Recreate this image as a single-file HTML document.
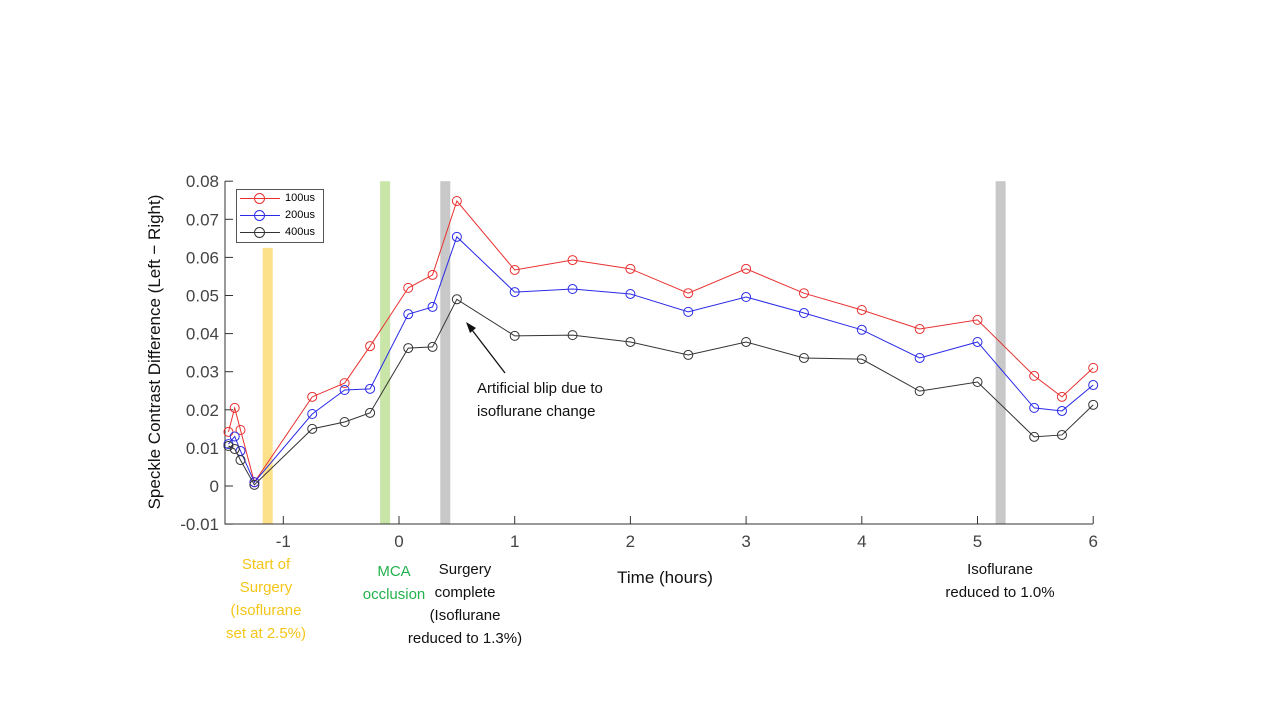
<!DOCTYPE html>
<html><head><meta charset="utf-8"><style>
body{margin:0;background:#fff;font-family:"Liberation Sans",sans-serif}
svg text{font-family:"Liberation Sans",sans-serif}
</style></head><body>
<svg id="c" width="1280" height="720"></svg>
<script>
const times=[-1.474,-1.42,-1.37,-1.25,-0.75,-0.47,-0.25,0.08,0.29,0.5,1,1.5,2,2.5,3,3.5,4,4.5,5,5.49,5.73,6];
const s100=[0.0142,0.0205,0.0147,0.001,0.0234,0.027,0.0367,0.052,0.0554,0.0748,0.0567,0.0593,0.057,0.0506,0.057,0.0506,0.0462,0.0412,0.0436,0.0289,0.0234,0.031];
const s200=[0.011,0.013,0.0092,0.001,0.0189,0.0252,0.0255,0.0451,0.047,0.0654,0.0509,0.0517,0.0504,0.0457,0.0496,0.0454,0.041,0.0336,0.0378,0.0205,0.0197,0.0265];
const s400=[0.0105,0.0097,0.0068,0.0003,0.015,0.0168,0.0192,0.0362,0.0365,0.049,0.0394,0.0396,0.0378,0.0344,0.0378,0.0336,0.0333,0.0249,0.0273,0.0129,0.0134,0.0213];
const yTicks=[-0.01,0,0.01,0.02,0.03,0.04,0.05,0.06,0.07,0.08];
const yLabels=["-0.01","0","0.01","0.02","0.03","0.04","0.05","0.06","0.07","0.08"];
const xTicks=[-1,0,1,2,3,4,5,6];
const xLabels=["-1","0","1","2","3","4","5","6"];
const bands=[{x:-1.135,y0:0.0625,c:"#fde08a",n:"surgery-start-band"},{x:-0.12,y0:0.08,c:"#c9e5a8",n:"mca-occlusion-band"},{x:0.4,y0:0.08,c:"#c8c8c8",n:"surgery-complete-band"},{x:5.2,y0:0.08,c:"#c8c8c8",n:"isoflurane-reduced-band"}];
const X=v=>399+v*115.7, Y=v=>486-v*3810;
const svg=document.getElementById('c');const NS="http://www.w3.org/2000/svg";
function mk(t,a,p){const e=document.createElementNS(NS,t);for(const k in a)e.setAttribute(k,a[k]);(p||svg).appendChild(e);return e;}
bands.forEach(b=>{const r=mk('rect',{x:X(b.x)-5,y:Y(b.y0),width:10,height:524-Y(b.y0),fill:b.c});

});
let ax=mk('path',{d:'M225,181 V524 H1093',stroke:'#333',fill:'none','stroke-width':1});


yTicks.forEach((v,i)=>{mk('line',{x1:225,x2:233,y1:Y(v),y2:Y(v),stroke:'#333'});
const t=mk('text',{x:219,y:Y(v)+6,'text-anchor':'end','font-size':17,fill:'#444'});t.textContent=yLabels[i];

});
xTicks.forEach((v,i)=>{mk('line',{x1:X(v),x2:X(v),y1:524,y2:516,stroke:'#333'});
const t=mk('text',{x:X(v),y:547,'text-anchor':'middle','font-size':17,fill:'#444'});t.textContent=xLabels[i];

});
[[s100,'#e83030','series-100us'],[s200,'#2a2ae8','series-200us'],[s400,'#333','series-400us']].forEach(([s,c,n])=>{
const g=mk('g',{});


mk('polyline',{points:s.map((v,i)=>X(times[i])+','+Y(v)).join(' '),fill:'none',stroke:c,'stroke-width':1},g);
s.forEach((v,i)=>{const p=mk('circle',{cx:X(times[i]),cy:Y(v),r:4.5,fill:'none',stroke:c},g);

});});
</script>
<div style="position:absolute;left:236px;top:189px;width:86px;height:52px;border:1px solid #555;background:#fff;font-size:11px">
<div style="position:relative;height:17px"><span style="position:absolute;left:3px;top:8px;width:40px;border-top:1px solid #e83030"></span><span style="position:absolute;left:17px;top:3px;width:9px;height:9px;border:1px solid #e83030;border-radius:50%"></span><span style="position:absolute;left:48px;top:2px">100us</span></div>
<div style="position:relative;height:17px"><span style="position:absolute;left:3px;top:8px;width:40px;border-top:1px solid #2a2ae8"></span><span style="position:absolute;left:17px;top:3px;width:9px;height:9px;border:1px solid #2a2ae8;border-radius:50%"></span><span style="position:absolute;left:48px;top:2px">200us</span></div>
<div style="position:relative;height:17px"><span style="position:absolute;left:3px;top:8px;width:40px;border-top:1px solid #333"></span><span style="position:absolute;left:17px;top:3px;width:9px;height:9px;border:1px solid #333;border-radius:50%"></span><span style="position:absolute;left:48px;top:2px">400us</span></div>
</div>
<div style="position:absolute;left:155px;top:352px;transform:translate(-50%,-50%) rotate(-90deg);white-space:nowrap;font-size:17px;color:#111">Speckle Contrast Difference (Left − Right)</div>
<div style="position:absolute;left:665px;top:568px;transform:translateX(-50%);font-size:17px;color:#111">Time (hours)</div>
<div style="position:absolute;left:266px;top:553px;transform:translateX(-50%);text-align:center;font-size:15px;line-height:23px;color:#f5c518">Start of<br>Surgery<br>(Isoflurane<br>set at 2.5%)</div>
<div style="position:absolute;left:394px;top:560px;transform:translateX(-50%);text-align:center;font-size:15px;line-height:23px;color:#22b14c">MCA<br>occlusion</div>
<div style="position:absolute;left:465px;top:558px;transform:translateX(-50%);text-align:center;font-size:15px;line-height:23px;color:#111;white-space:nowrap">Surgery<br>complete<br>(Isoflurane<br>reduced to 1.3%)</div>
<div style="position:absolute;left:1000px;top:558px;transform:translateX(-50%);text-align:center;font-size:15px;line-height:23px;color:#111;white-space:nowrap">Isoflurane<br>reduced to 1.0%</div>
<div style="position:absolute;left:477px;top:377px;font-size:15px;line-height:23px;color:#111">Artificial blip due to<br>isoflurane change</div>
<svg width="1280" height="720" style="position:absolute;left:0;top:0;pointer-events:none">
<line x1="505" y1="373" x2="469" y2="326" stroke="#111" stroke-width="1.3"/>
<polygon points="466,322 476,328 470,333" fill="#111"/>
</svg>
</body></html>
